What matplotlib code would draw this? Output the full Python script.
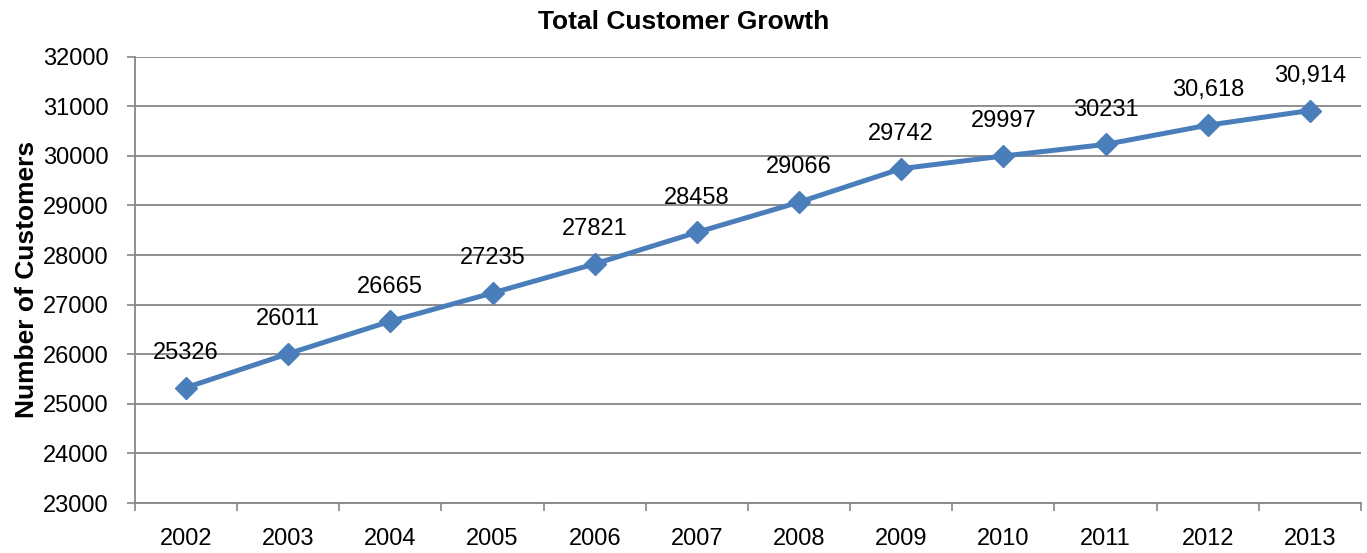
import matplotlib.pyplot as plt
import numpy as np

plt.rcParams['font.family'] = ['Liberation Sans', 'DejaVu Sans']

years = ['2002', '2003', '2004', '2005', '2006', '2007', '2008', '2009', '2010', '2011', '2012', '2013']
customers = [25326, 26011, 26665, 27235, 27821, 28458, 29066, 29742, 29997, 30231, 30618, 30914]
point_labels = ['25326', '26011', '26665', '27235', '27821', '28458', '29066', '29742', '29997', '30231', '30,618', '30,914']

fig = plt.figure(figsize=(13.67, 5.53), dpi=100)
ax = fig.add_axes([0.0987, 0.0904, 0.8969, 0.8071])

x = np.arange(len(years))
ax.plot(x, customers, color='#4A7EBB', linewidth=3.6, marker='D', markersize=11, zorder=3)

for xi, yi, lab in zip(x, customers, point_labels):
    ax.annotate(lab, (xi, yi), xytext=(0, 25), textcoords='offset points',
                ha='center', va='center', fontsize=17)

ax.set_xlim(-0.5, len(years) - 0.5)
ax.set_ylim(23000, 32000)
ax.set_yticks(np.arange(23000, 32001, 1000))
ax.set_xticks(x)
ax.set_xticklabels(years, fontsize=17)
ax.set_xticks(np.arange(-0.5, len(years), 1), minor=True)
ax.tick_params(axis='x', which='major', length=0, pad=18)
ax.tick_params(axis='x', which='minor', length=6, width=1.2, color='#868686')
ax.tick_params(axis='y', labelsize=17, length=6, width=1.2, color='#868686', pad=13)
ax.grid(axis='y', color='#868686', linewidth=1.3)
ax.set_axisbelow(True)
for s in ['top', 'right']:
    ax.spines[s].set_visible(False)
for s in ['left', 'bottom']:
    ax.spines[s].set_color('#868686')
    ax.spines[s].set_linewidth(1.3)

fig.text(0.5, 1 - 22 / 553, 'Total Customer Growth', fontsize=19, fontweight='bold',
         ha='center', va='center')
ax.set_ylabel('Number of Customers', fontsize=19, fontweight='bold', labelpad=3)

fig.savefig('out.png', dpi=100)
